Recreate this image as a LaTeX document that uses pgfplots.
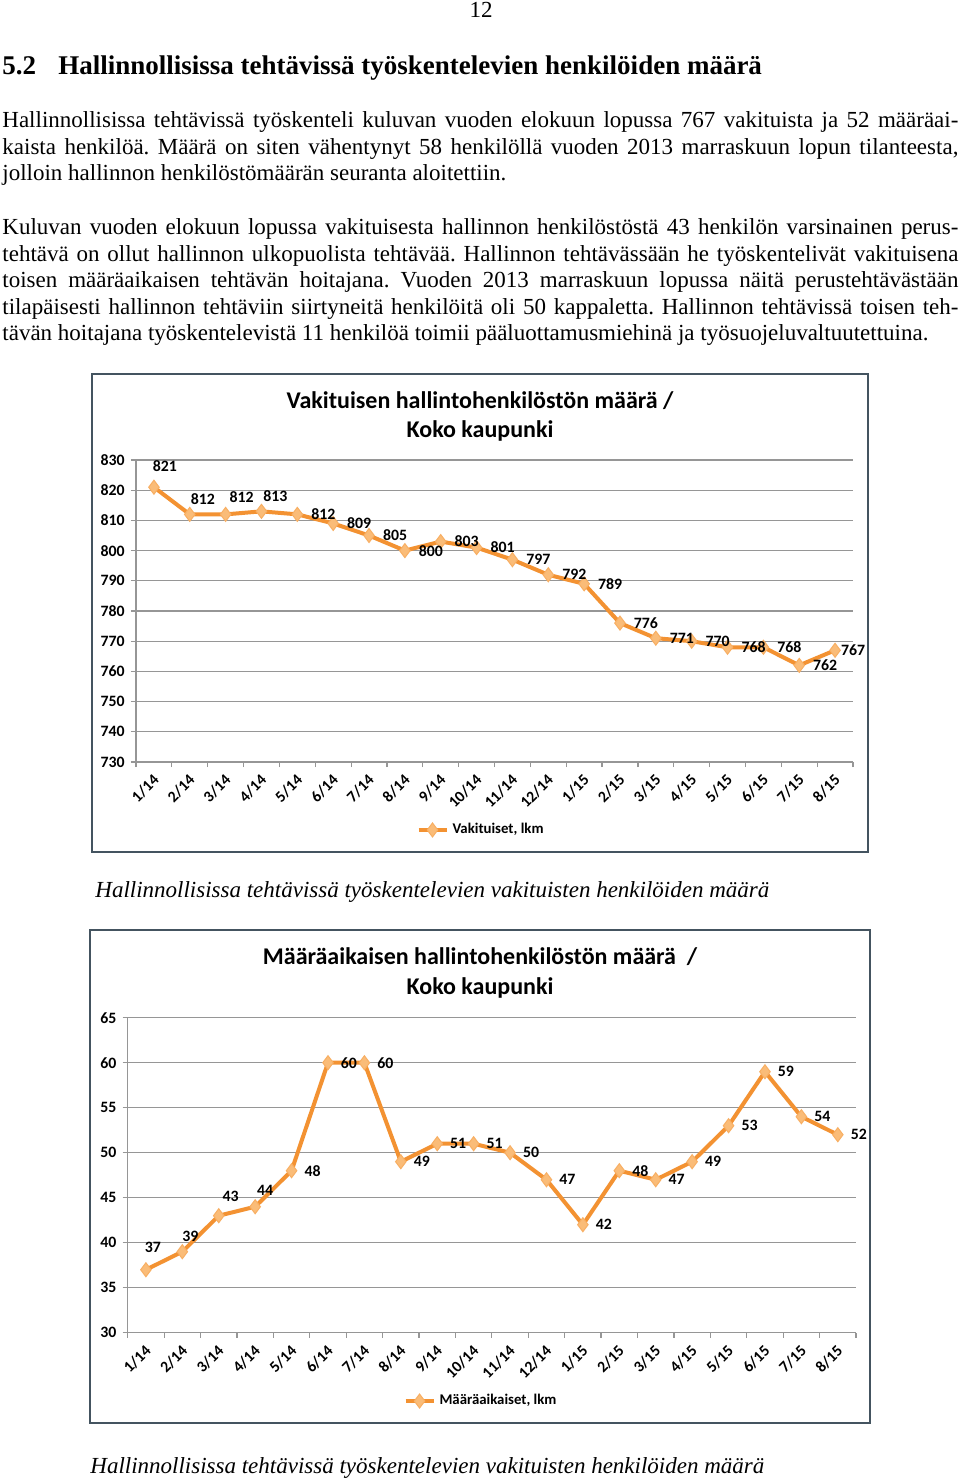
\documentclass[border=0pt]{standalone}
\usepackage{fontspec}
\setmainfont{Liberation Serif}
\newfontfamily\chartf{Carlito}
\usepackage{pgfplots}
\pgfplotsset{compat=1.18}
\usepackage{pgfplotstable}
\frenchspacing

\definecolor{orl}{RGB}{243,146,50}
\definecolor{orf}{RGB}{250,188,120}
\definecolor{gridc}{RGB}{150,150,150}
\definecolor{framec}{RGB}{68,84,96}

\newcommand{\bodyfont}{\fontsize{11.5pt}{13.4pt}\selectfont}
\newcommand{\jl}[2]{\node[anchor=base west,inner sep=0pt] at (2,#1) {\bodyfont\makebox[478pt][s]{#2}};}
\newcommand{\nl}[2]{\node[anchor=base west,inner sep=0pt] at (2,#1) {\bodyfont #2};}
\newcommand{\titlefont}{\chartf\bfseries\fontsize{12pt}{14pt}\selectfont}

\pgfplotstableread{
x y
0 821
1 812
2 812
3 813
4 812
5 809
6 805
7 800
8 803
9 801
10 797
11 792
12 789
13 776
14 771
15 770
16 768
17 768
18 762
19 767
}\vakdata

\pgfplotstableread{
x y
0 37
1 39
2 43
3 44
4 48
5 60
6 60
7 49
8 51
9 51
10 50
11 47
12 42
13 48
14 47
15 49
16 53
17 59
18 54
19 52
}\maardata

\tikzset{lab/.style={font=\chartf\bfseries\fontsize{7.9pt}{9pt}\selectfont, inner sep=0pt, anchor=center}}

\pgfplotsset{
 mychart/.style={
  scale only axis, clip=false,
  xmin=-0.5, xmax=19.5,
  xtick={0,...,19},
  xticklabels={{1/14},{2/14},{3/14},{4/14},{5/14},{6/14},{7/14},{8/14},{9/14},{10/14},{11/14},{12/14},{1/15},{2/15},{3/15},{4/15},{5/15},{6/15},{7/15},{8/15}},
  minor xtick={-0.5,0.5,...,19.5},
  axis lines*=left,
  axis line style={draw=gridc, line width=0.6pt},
  ymajorgrids, grid style={draw=gridc, line width=0.6pt},
  tick align=outside,
  major x tick style={draw=none},
  minor x tick style={draw=gridc, line width=0.6pt},
  ytick style={draw=gridc, line width=0.6pt},
  major tick length=2.5pt, minor tick length=2.5pt,
  tick label style={font=\chartf\bfseries\fontsize{7.9pt}{9pt}\selectfont},
  /pgf/number format/assume math mode=true,
  xticklabel style={xshift=-1pt, yshift=-1.5pt, rotate=45, anchor=north east, inner sep=1pt},
  yticklabel style={inner sep=1.5pt, xshift=-1.5pt},
  legend style={draw=none, fill=none, font=\chartf\bfseries\fontsize{7.4pt}{9pt}\selectfont},
  legend image code/.code={\draw[mark repeat=2,mark phase=2,##1] plot coordinates {(0pt,0pt) (7pt,0pt) (14pt,0pt)};},
 },
 myline/.style={color=orl, line width=2pt, mark=diamond*, mark size=3.5pt, mark options={fill=orf, draw=orf!70!orl, line width=0.5pt}},
}

\begin{document}
\begin{tikzpicture}[x=0.5pt,y=-0.5pt]
\useasboundingbox (0,0) rectangle (960,1479);
\fill[white] (0,0) rectangle (960,1479);

% page number and heading
\node[anchor=base,inner sep=0pt] at (481,17.5) {\bodyfont 12};
\node[anchor=base west,inner sep=0pt] at (2,74) {\fontsize{13.5pt}{16pt}\selectfont\bfseries 5.2};
\node[anchor=base west,inner sep=0pt] at (58,74) {\fontsize{13.5pt}{16pt}\selectfont\bfseries Hallinnollisissa tehtävissä työskentelevien henkilöiden määrä};

% paragraph 1
\jl{127.5}{Hallinnollisissa tehtävissä työskenteli kuluvan vuoden elokuun lopussa 767 vakituista ja 52 määräai-}
\jl{154}{kaista henkilöä. Määrä on siten vähentynyt 58 henkilöllä vuoden 2013 marraskuun lopun tilanteesta,}
\nl{180.5}{jolloin hallinnon henkilöstömäärän seuranta aloitettiin.}

% paragraph 2
\jl{234.5}{Kuluvan vuoden elokuun lopussa vakituisesta hallinnon henkilöstöstä 43 henkilön varsinainen perus-}
\jl{261}{tehtävä on ollut hallinnon ulkopuolista tehtävää. Hallinnon tehtävässään he työskentelivät vakituisena}
\jl{287.5}{toisen määräaikaisen tehtävän hoitajana. Vuoden 2013 marraskuun lopussa näitä perustehtävästään}
\jl{314}{tilapäisesti hallinnon tehtäviin siirtyneitä henkilöitä oli 50 kappaletta. Hallinnon tehtävissä toisen teh-}
\nl{340.5}{tävän hoitajana työskentelevistä 11 henkilöä toimii pääluottamusmiehinä ja työsuojeluvaltuutettuina.}

% chart 1 frame and title
\draw[framec, line width=1pt] (92,374) rectangle (868,851.5);
\node[anchor=base,inner sep=0pt] at (480,408) {\titlefont Vakituisen hallintohenkilöstön määrä /};
\node[anchor=base,inner sep=0pt] at (480,437) {\titlefont Koko kaupunki};

\begin{axis}[mychart, at={(68pt,-381pt)}, anchor=south west,
  width=358.5pt, height=151pt,
  ymin=730, ymax=830, ytick={730,740,...,830},
  legend style={at={(0.4826,-0.225)}, anchor=center}]
\addplot[myline] table[x=x,y=y] {\vakdata};
\addlegendentry{Vakituiset, lkm}
\coordinate (a0) at (axis cs:0,821);
\coordinate (a1) at (axis cs:1,812);
\coordinate (a2) at (axis cs:2,812);
\coordinate (a3) at (axis cs:3,813);
\coordinate (a4) at (axis cs:4,812);
\coordinate (a5) at (axis cs:5,809);
\coordinate (a6) at (axis cs:6,805);
\coordinate (a7) at (axis cs:7,800);
\coordinate (a8) at (axis cs:8,803);
\coordinate (a9) at (axis cs:9,801);
\coordinate (a10) at (axis cs:10,797);
\coordinate (a11) at (axis cs:11,792);
\coordinate (a12) at (axis cs:12,789);
\coordinate (a13) at (axis cs:13,776);
\coordinate (a14) at (axis cs:14,771);
\coordinate (a15) at (axis cs:15,770);
\coordinate (a16) at (axis cs:16,768);
\coordinate (a17) at (axis cs:17,768);
\coordinate (a18) at (axis cs:18,762);
\coordinate (a19) at (axis cs:19,767);
\end{axis}
\node[lab,xshift=5.5pt,yshift=10.5pt] at (a0) {821};
\node[lab,xshift=6.5pt,yshift=7.5pt] at (a1) {812};
\node[lab,xshift=8pt,yshift=8.5pt] at (a2) {812};
\node[lab,xshift=7pt,yshift=7.5pt] at (a3) {813};
\node[lab,xshift=13pt] at (a4) {812};
\node[lab,xshift=13pt] at (a5) {809};
\node[lab,xshift=13pt] at (a6) {805};
\node[lab,xshift=13pt] at (a7) {800};
\node[lab,xshift=13pt] at (a8) {803};
\node[lab,xshift=13pt] at (a9) {801};
\node[lab,xshift=13pt] at (a10) {797};
\node[lab,xshift=13pt] at (a11) {792};
\node[lab,xshift=13pt] at (a12) {789};
\node[lab,xshift=13pt] at (a13) {776};
\node[lab,xshift=13pt] at (a14) {771};
\node[lab,xshift=13pt] at (a15) {770};
\node[lab,xshift=13pt] at (a16) {768};
\node[lab,xshift=13pt] at (a17) {768};
\node[lab,xshift=13pt] at (a18) {762};
\node[lab,xshift=9pt] at (a19) {767};

\node[anchor=base west,inner sep=0pt] at (95,897) {\bodyfont\itshape Hallinnollisissa tehtävissä työskentelevien vakituisten henkilöiden määrä};

% chart 2 frame and title
\draw[framec, line width=1pt] (90,930) rectangle (870,1423);
\node[anchor=base,inner sep=0pt] at (480,964) {\titlefont Määräaikaisen hallintohenkilöstön määrä\ \ /};
\node[anchor=base,inner sep=0pt] at (480,994) {\titlefont Koko kaupunki};

\begin{axis}[mychart, at={(63.85pt,-666.35pt)}, anchor=south west,
  width=364.15pt, height=157.5pt,
  ymin=30, ymax=65, ytick={30,35,...,65},
  legend style={at={(0.4865,-0.217)}, anchor=center}]
\addplot[myline] table[x=x,y=y] {\maardata};
\addlegendentry{Määräaikaiset, lkm}
\coordinate (b0) at (axis cs:0,37);
\coordinate (b1) at (axis cs:1,39);
\coordinate (b2) at (axis cs:2,43);
\coordinate (b3) at (axis cs:3,44);
\coordinate (b4) at (axis cs:4,48);
\coordinate (b5) at (axis cs:5,60);
\coordinate (b6) at (axis cs:6,60);
\coordinate (b7) at (axis cs:7,49);
\coordinate (b8) at (axis cs:8,51);
\coordinate (b9) at (axis cs:9,51);
\coordinate (b10) at (axis cs:10,50);
\coordinate (b11) at (axis cs:11,47);
\coordinate (b12) at (axis cs:12,42);
\coordinate (b13) at (axis cs:13,48);
\coordinate (b14) at (axis cs:14,47);
\coordinate (b15) at (axis cs:15,49);
\coordinate (b16) at (axis cs:16,53);
\coordinate (b17) at (axis cs:17,59);
\coordinate (b18) at (axis cs:18,54);
\coordinate (b19) at (axis cs:19,52);
\end{axis}
\node[lab,xshift=3.5pt,yshift=11pt] at (b0) {37};
\node[lab,xshift=4pt,yshift=7.5pt] at (b1) {39};
\node[lab,xshift=6pt,yshift=9.5pt] at (b2) {43};
\node[lab,xshift=5pt,yshift=8pt] at (b3) {44};
\node[lab,xshift=10.5pt] at (b4) {48};
\node[lab,xshift=10.5pt] at (b5) {60};
\node[lab,xshift=10.5pt] at (b6) {60};
\node[lab,xshift=10.5pt] at (b7) {49};
\node[lab,xshift=10.5pt] at (b8) {51};
\node[lab,xshift=10.5pt] at (b9) {51};
\node[lab,xshift=10.5pt] at (b10) {50};
\node[lab,xshift=10.5pt] at (b11) {47};
\node[lab,xshift=10.5pt] at (b12) {42};
\node[lab,xshift=10.5pt] at (b13) {48};
\node[lab,xshift=10.5pt] at (b14) {47};
\node[lab,xshift=10.5pt] at (b15) {49};
\node[lab,xshift=10.5pt] at (b16) {53};
\node[lab,xshift=10.5pt] at (b17) {59};
\node[lab,xshift=10.5pt] at (b18) {54};
\node[lab,xshift=10.5pt] at (b19) {52};

\node[anchor=base west,inner sep=0pt] at (90,1473) {\bodyfont\itshape Hallinnollisissa tehtävissä työskentelevien vakituisten henkilöiden määrä};
\end{tikzpicture}
\end{document}
